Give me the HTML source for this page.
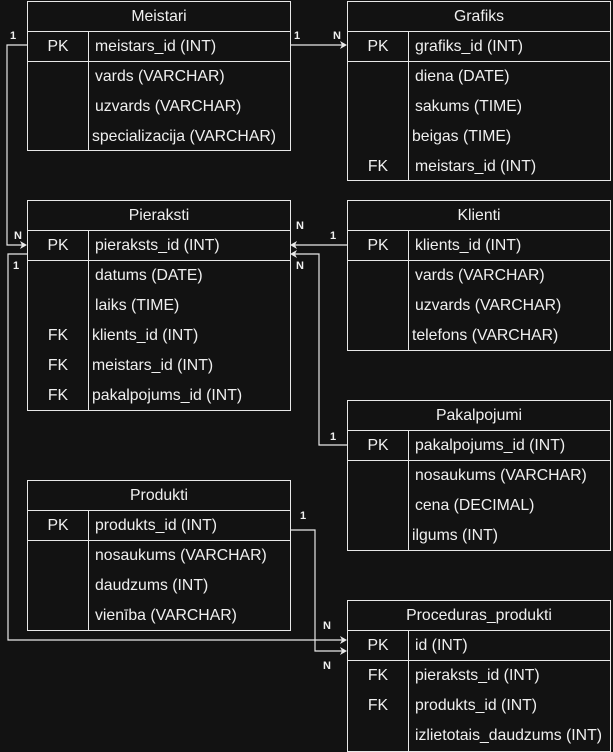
<!DOCTYPE html>
<html><head><meta charset="utf-8"><style>
body{margin:0;width:613px;height:752px;background:#121212;position:relative;overflow:hidden;font-family:"Liberation Sans",sans-serif;color:#f0f0f0;font-size:15.8px}
.t{position:absolute;border:1px solid #e8e8e8;box-sizing:border-box}
.h{height:29px;line-height:29px;text-align:center;border-bottom:1px solid #e8e8e8}
.r{height:30px;line-height:30px;position:relative}
.r.pk{border-bottom:1px solid #e8e8e8;height:29px;line-height:29px}
.k{position:absolute;left:0;width:60px;text-align:center}
.v{position:absolute;left:67px;white-space:nowrap}
.col{position:absolute;left:60px;top:29px;bottom:0;border-left:1px solid #e8e8e8}
svg{position:absolute;left:0;top:0}
</style></head><body>
<svg width="613" height="752" font-family="Liberation Sans, sans-serif" font-size="11" fill="#f0f0f0" font-weight="bold">
<g stroke="#e8e8e8" stroke-width="1.2" fill="none">
<polyline points="27,45 7,45 7,245 22,245"/>
<polyline points="290,45 342,45"/>
<polyline points="347,245 295,245"/>
<polyline points="347,445 319,445 319,254 295,254"/>
<polyline points="27,254 8,254 8,640 342,640"/>
<polyline points="290,530 315,530 315,651 342,651"/>
</g>
<g fill="#e8e8e8">
<path d="M27,245 l-7,-4 2,4 -2,4z"/>
<path d="M347,45 l-7,-4 2,4 -2,4z"/>
<path d="M290,245 l7,-4 -2,4 2,4z"/>
<path d="M290,254 l7,-4 -2,4 2,4z"/>
<path d="M347,640 l-7,-4 2,4 -2,4z"/>
<path d="M347,651 l-7,-4 2,4 -2,4z"/>
</g>
<text x="10" y="39">1</text><text x="14" y="239">N</text>
<text x="294" y="39">1</text><text x="333" y="39">N</text>
<text x="296" y="229">N</text><text x="330" y="239">1</text>
<text x="296" y="269">N</text><text x="330" y="440">1</text>
<text x="13" y="269">1</text>
<text x="300" y="519">1</text>
<text x="323" y="629">N</text><text x="323" y="669">N</text>
</svg>

<div class="t" style="left:27px;top:1px;width:264px;height:150px"><div class="col"></div>
<div class="h">Meistari</div>
<div class="r pk"><span class="k">PK</span><span class="v">meistars_id (INT)</span></div>
<div class="r"><span class="v">vards (VARCHAR)</span></div>
<div class="r"><span class="v">uzvards (VARCHAR)</span></div>
<div class="r"><span class="v" style="left:64px">specializacija (VARCHAR)</span></div></div>

<div class="t" style="left:347px;top:1px;width:264px;height:180px"><div class="col"></div>
<div class="h">Grafiks</div>
<div class="r pk"><span class="k">PK</span><span class="v">grafiks_id (INT)</span></div>
<div class="r"><span class="v">diena (DATE)</span></div>
<div class="r"><span class="v">sakums (TIME)</span></div>
<div class="r"><span class="v" style="left:64px">beigas (TIME)</span></div>
<div class="r"><span class="k">FK</span><span class="v">meistars_id (INT)</span></div></div>

<div class="t" style="left:27px;top:200px;width:264px;height:211px"><div class="col"></div>
<div class="h">Pieraksti</div>
<div class="r pk"><span class="k">PK</span><span class="v">pieraksts_id (INT)</span></div>
<div class="r"><span class="v">datums (DATE)</span></div>
<div class="r"><span class="v">laiks (TIME)</span></div>
<div class="r"><span class="k">FK</span><span class="v" style="left:64px">klients_id (INT)</span></div>
<div class="r"><span class="k">FK</span><span class="v" style="left:64px">meistars_id (INT)</span></div>
<div class="r"><span class="k">FK</span><span class="v" style="left:64px">pakalpojums_id (INT)</span></div></div>

<div class="t" style="left:347px;top:200px;width:264px;height:151px"><div class="col"></div>
<div class="h">Klienti</div>
<div class="r pk"><span class="k">PK</span><span class="v">klients_id (INT)</span></div>
<div class="r"><span class="v">vards (VARCHAR)</span></div>
<div class="r"><span class="v">uzvards (VARCHAR)</span></div>
<div class="r"><span class="v" style="left:64px">telefons (VARCHAR)</span></div></div>

<div class="t" style="left:347px;top:400px;width:264px;height:151px"><div class="col"></div>
<div class="h">Pakalpojumi</div>
<div class="r pk"><span class="k">PK</span><span class="v">pakalpojums_id (INT)</span></div>
<div class="r"><span class="v">nosaukums (VARCHAR)</span></div>
<div class="r"><span class="v">cena (DECIMAL)</span></div>
<div class="r"><span class="v" style="left:64px">ilgums (INT)</span></div></div>

<div class="t" style="left:27px;top:480px;width:264px;height:151px"><div class="col"></div>
<div class="h">Produkti</div>
<div class="r pk"><span class="k">PK</span><span class="v">produkts_id (INT)</span></div>
<div class="r"><span class="v">nosaukums (VARCHAR)</span></div>
<div class="r"><span class="v">daudzums (INT)</span></div>
<div class="r"><span class="v">vienība (VARCHAR)</span></div></div>

<div class="t" style="left:347px;top:600px;width:264px;height:152px"><div class="col"></div>
<div class="h">Proceduras_produkti</div>
<div class="r pk"><span class="k">PK</span><span class="v">id (INT)</span></div>
<div class="r"><span class="k">FK</span><span class="v">pieraksts_id (INT)</span></div>
<div class="r"><span class="k">FK</span><span class="v">produkts_id (INT)</span></div>
<div class="r"><span class="v">izlietotais_daudzums (INT)</span></div></div>
</body></html>
